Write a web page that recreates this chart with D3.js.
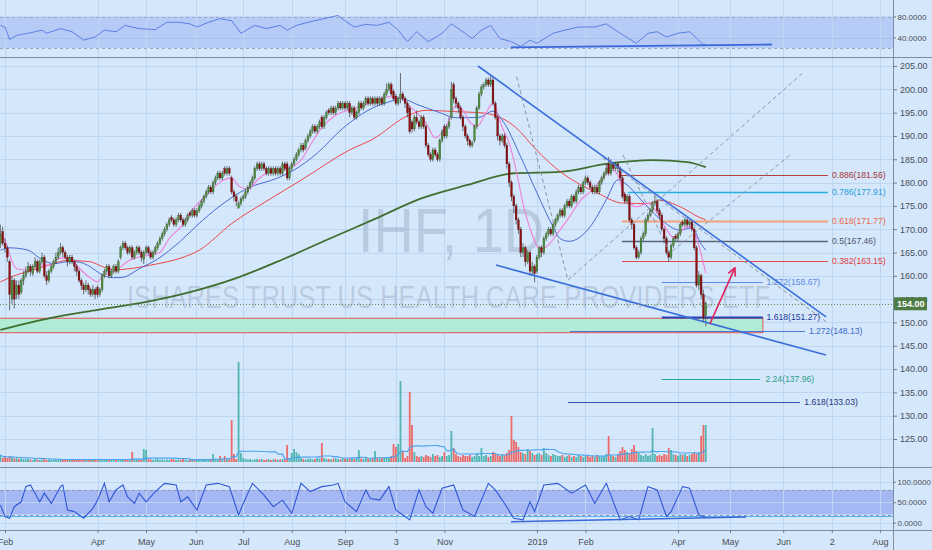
<!DOCTYPE html>
<html><head><meta charset="utf-8">
<script src="https://cdn.jsdelivr.net/npm/d3@7/dist/d3.min.js"></script>
<style>
html,body{margin:0;padding:0;background:#d5e7fb;}
svg{display:block;font-family:"Liberation Sans",Arial,sans-serif;}
</style></head><body>
<svg id="chart" width="932" height="550"></svg>
<script>
// ================= DATA =================
const firstBarIndex = -2; // bar index of first candle (0 = 1 Feb 2018)
const opens = [
167,169.5,167,166,163,155,159,156,158,156.5,159,160,
161,162,160.5,162,163,161,163,164,160,159,
161,162,163,164,165,166,165,164,163,164,
163,162,161,159,158,157,158,157,156,157,
157.5,156,157,160,161,162,160,161,162,161,
164,166,167,166,165,166,164,165,166,165,
163.5,165,166,165,164,165,166,167,168,169,
170,171,172.5,172,171,172,173,172,171,172,
173.5,173,174,173,174,175,176,177,178,179,
178,180,181,182,181,183,182,183,181,178,
177,174.5,175.5,176.5,177,178,179,180,181,183,
184,183,184,183,182,183,182,183,182,183,
182,184,184,181,183,184,185,186,187,188,
187.5,189,190,191,192,191,192,194,192,194,
195.5,195,196,195,196,197,196,197,196,197,
195,196,194,195,197,196,197,198,197,198,
197,198,197,198,197,199,200,201,199.5,198.5,
197,198,199,198,197,196,193,191.5,194,193,
192,194,192,188,186,185,187,186,185,189,
192,190,192,194,201,198,197,196,194,192,
190,189,188,189,192,196,199,200.5,201,202,
201,202,197,194,190,189,190,188,184,180,
177,175,172,170,165,166,163,165,161,162,
161,164,166,165,168,169,170,169,171,172,
173,174,173,175,176,175,177,176,178,179,
178,180,181,180,179,178,179,178,180,181,
182,184,182,184,183,184,183,181,177.5,176,
177,172,171,166,164,165,168,169,172,173,
174,175.5,176,174,173,170,168,165,164,166.5,
168.5,168,169,171.5,171,172,171,171.5,170,166,
158,160,156,151.5];
const highs = [
171,170.5,168,166.5,163.5,160,159.5,159,159,159.5,161,162,
163,162.5,162.5,164,163.5,163.5,165,164.5,161,161.5,
162.5,163.5,165,166,167,166.5,165.5,164.5,164.5,164.5,
163.5,162.5,161.5,159.5,158.5,159,158.5,157.5,158,157.5,
158,157.5,160.5,161.5,162.5,162.5,161.5,162.5,162.5,163.5,
166.5,167.5,167.5,166.5,166.5,166.5,165.5,166.5,166.5,165.5,
165.5,166.5,166.5,165.5,165.5,166.5,167.5,168.5,169.5,170.5,
171.5,172.5,173,172.5,172.5,173.5,173.5,172.5,172.5,173.5,
174,174.5,174.5,174.5,175.5,176.5,177.5,178.5,179.5,179.5,
180.5,181.5,182.5,182.5,182.5,183.5,183.5,183.5,181.5,178.5,
177.5,176,177,177.5,178.5,179.5,180.5,181.5,183.5,184.5,
184.5,184.5,184.5,183.5,183.5,183.5,183.5,183.5,183.5,183.5,
184.5,184.5,184.5,183.5,184.5,185.5,186.5,187.5,188.5,188.5,
189.5,190.5,191.5,192.5,192.5,192.5,193.5,194.5,194.5,195.5,
196,196.5,196.5,196.5,197.5,197.5,197.5,197.5,197.5,197.5,
196.5,196.5,195.5,197.5,197.5,197.5,198.5,198.5,198.5,198.5,
198.5,198.5,198.5,198.5,199.5,201.3,201.5,201.5,200,199,
198.5,203.5,199.5,198.5,197.5,196.5,193.5,194.5,195.5,193.5,
194.5,194.5,192.5,188.5,186.5,187.5,187.5,186.5,189.5,191.5,
192.5,192.5,194,201.6,201.5,198.5,197.5,196.5,194.5,192.5,
190.5,189.5,189,192.5,196.5,199.5,201,201.5,202.5,202.5,
203,202.5,197.5,194.5,190.5,190.5,190.5,188.5,184.5,180.5,
177.5,175.5,172.5,170.5,167,166.5,165.5,165.5,163,162.5,
164.5,166.5,166.5,168.5,169.5,170.5,170.5,171.5,172.5,173.5,
174.5,174.5,175.5,176.5,176.5,177.5,177.5,178.5,179.5,179.5,
180.5,181.5,181.5,180.5,179.5,179.5,179.5,180.5,181.5,182.5,
184,185.5,185,184.5,184.5,184.5,183.5,181.5,178,177.5,
177.5,172.5,171.5,166.5,165.5,168.5,169.5,172.5,173.5,174.5,
176,177.3,176.5,174.5,173.5,170.5,168.5,165.5,167,168.5,
169,169.5,171.5,172,172.5,172.5,172,172,170.5,166.5,
161,160.5,157,154.5];
const lows = [
166,166.5,165,163,152.6,154,153,155,155,156,158,159.5,
160.5,160,160,161.5,160.5,160.5,162.5,159.5,158,158.5,
160.5,161.5,162.5,163.5,164.5,164,163.5,162,162.5,162.5,
161,160,158.5,157,156,156.5,156,155.5,155.5,155,
155.3,155.5,156.5,159.5,160.5,159.5,159.5,160.5,160.5,160.5,
163.5,165.5,165.5,164.5,164.5,163.5,163.5,164.5,164.5,163,
162.5,164.5,164.5,163.5,163.5,164.5,165.5,166.5,167.5,168.5,
169.5,170.5,171.5,170.5,170.5,171.5,171.5,170.5,170.5,171.5,
172.5,172.5,172.5,172.5,173.5,174.5,175.5,176.5,177.5,177.5,
177.5,179.5,180.5,180.5,180.5,181.5,181.5,181.5,177.5,176,
175,174.8,175,176,176.5,177.5,178.5,179.5,180.5,182.5,
182.5,182.5,182.5,181.5,181.5,181.5,181.5,181.5,181.5,181.5,
181.5,182.5,180.5,180.5,182.5,183.5,184.5,185.5,186.5,186.5,
187,188.5,189.5,190.5,190.5,190.5,191.5,191.5,191.5,193.5,
194.5,194.5,194.5,194.5,195.5,195.5,195.5,195.5,195.5,194,
194.5,193.5,193.5,194.5,195.5,195.5,196.5,196.5,196.5,196.5,
196.5,196.5,196.5,196.5,196.5,198.5,199.5,198.5,197.5,196.5,
196.5,197,197.5,196,194,190.5,190.7,191,192.5,191.5,
191.5,191.5,187.5,185.5,184.5,184.5,185.5,184.5,184.5,188.5,
189.5,189.5,191.5,193.5,197,196,195,193.5,191,189.5,
188,187.5,187.5,188.5,191.5,195.5,198.5,200,200.5,200.5,
200.5,196.5,193.5,189,188,188.5,187.5,183,179,176,
173.5,171,169,164,164,162,162.5,160,160,158.6,
160.5,163.5,164,164.5,167.5,168.5,168.5,168.5,170.5,171.5,
172.5,172.5,172.5,174.5,174.5,174.5,175.5,175.5,177.5,177.5,
177.5,179.5,179.5,178.5,177.5,177.5,177.5,177.5,179.5,180.5,
181.5,181.5,181.5,182.5,182.5,182,180.5,176.5,175.5,175.5,
171.5,170,165.5,163.5,163.6,164.5,167.5,168.5,171.5,172.5,
173.5,175,173.5,172,169.5,167,164.5,163,163.5,166,
167.5,167.5,168.5,170.5,170.5,170.5,170.5,169.5,165.5,157.5,
157,155,150,149.2];
const closes = [
169,167,166,164,156,159,155,158,156,159,160,161,
162,161,162,163,161,163,164,160,159,161,
162,163,164,165,166,165,164,163,164,163,
162,161,159,158,157,158,157,156,157,156,
156,157,160,161,162,160,161,162,161,163,
166,167,166,165,166,164,165,166,165,164,
165,166,165,164,165,166,167,168,169,170,
171,172,172,171,172,173,172,171,172,173,
173,174,173,174,175,176,177,178,179,178,
180,181,182,181,182,182,183,182,178,177,
176,175.5,176.5,177,178,179,180,181,183,184,
183,184,183,182,183,182,183,182,183,182,
184,183,181,183,184,185,186,187,188,187,
189,190,191,192,191,192,193,192,194,195,
195,196,195,196,197,196,197,196,197,195,
196,194,195,197,196,197,198,197,198,197,
198,197,198,197,199,200,201,199,198,197,
198,199,198,197,195,191,191.5,194,193,192,
194,192,188,186,185,187,186,185,189,191,
190,192,193,200,198,197,196,194,192,190,
189,188,188.5,192,196,199,200.5,201,202,201,
202,197,194,190,189,190,188,184,180,177,
175,172,170,165,166,163,165,161,162,160.5,
164,166,165,168,169,170,169,171,172,173,
174,173,175,176,175,177,176,178,179,178,
180,181,180,179,178,179,178,180,181,182,
183,182,184,183,184,183,181,177,176,177,
172,171,166,164,165,168,169,172,173,174,
175.5,176,174,173,170,168,165,164,166.5,168,
168,169,171,171,172,171,171.5,170,166,158,
160,156,151,154];
const volumes = [ // thousand shares
70,40,50,40,60,45,35,40,30,35,30,25,
30,25,20,30,25,20,25,30,20,25,
20,25,30,20,25,20,30,25,20,25,
25,20,30,25,20,25,30,20,25,30,
30,25,20,25,30,20,25,20,30,25,
20,25,30,20,25,100,30,25,20,30,
130,120,30,25,20,25,30,20,25,20,
25,20,30,25,20,25,20,30,25,20,
20,25,30,20,25,20,30,25,20,25,
80,30,25,60,30,60,25,30,420,80,
30,1000,90,40,30,25,30,20,25,30,
25,30,20,25,30,20,25,30,20,25,
30,25,170,40,90,130,100,80,40,30,
25,30,35,25,30,40,35,190,40,30,
30,25,35,40,30,25,40,35,30,40,
35,30,40,120,35,30,40,35,30,40,
110,40,35,45,40,50,45,60,180,150,
180,810,110,40,60,700,370,100,60,50,
60,50,70,60,50,80,60,70,50,60,
100,60,70,310,140,80,60,50,70,60,
60,70,50,60,80,60,140,60,70,50,
60,100,80,70,60,80,70,90,120,460,
220,200,150,100,90,80,130,110,90,70,
80,90,70,140,90,70,60,80,70,60,
60,70,50,60,70,50,60,50,70,60,
50,60,70,50,60,50,70,60,50,60,
80,260,70,60,50,80,110,150,120,100,
90,130,170,110,90,70,60,80,60,70,
340,80,60,70,60,80,70,140,120,80,
70,60,80,70,80,60,70,80,100,80,
100,260,370,370];

// moving averages: [bar index, price]
const ma10 = [[-2,169],[-1,168.3],[0,167.7],[2,164.5],[5,161.5],[10,161.2],[14,162.3],[19,162.3],[24,163.8],[28,163.8],[32,161.7],[37,159.5],[40,158.7],[42,159.8],[48,161.2],[51,162.3],[54,163.4],[63,164.5],[67,165],[71,168],[76,170.5],[80,173.5],[87,177.3],[93,180.1],[98,181],[101,179.3],[105,178.6],[109,180.5],[113,182],[119,182.7],[123,183.1],[128,184.8],[132,188],[137,191.8],[143,194.5],[149,195.6],[153,196.2],[159,197.3],[166,198.4],[171,198.1],[174,196.8],[178,195],[182,192.8],[186,189.6],[188,190.2],[191,192.3],[195,196.5],[198,195.6],[201,193],[204,192],[207,194],[210,196.6],[211,197],[215,191.8],[218,188.5],[221,182.7],[224,175.5],[228,168.8],[231,165.8],[234,166.2],[239,169.2],[244,172.6],[249,176.3],[253,178],[257,180.2],[262,182.7],[265,181.6],[267,178.5],[270,175.8],[273,174.8],[278,175.6],[282,173.5],[286,170],[289,168.3],[292,169.4],[295,170.5],[297,170.3],[300,166.5],[303,160.6]];
const ma20 = [[-2,165.5],[2,166],[10,165.5],[15,163.8],[21,162.6],[27,163],[31,163],[37,161.9],[41,160.5],[47,159.6],[51,159.7],[58,161.5],[66,163.6],[76,167.5],[83,170.8],[93,175],[105,178.8],[118,181],[125,182.7],[135,186.3],[146,191.6],[159,196],[166,197.3],[171,198],[179,196.6],[188,195],[195,193.9],[205,194],[211,195.3],[215,193.4],[223,185.5],[230,177.8],[237,170.5],[240,168],[244,167.4],[253,170.5],[260,176.3],[265,180.6],[269,179.5],[275,176.3],[283,172.3],[292,169.8],[297,170.3],[301,166.8],[303,165.5]];
const ma50 = [[-2,158.7],[5,160.2],[12,161.2],[19,162.3],[27,163.3],[37,163],[42,162],[48,161.3],[55,161.6],[63,162.3],[70,163],[76,163.8],[84,165.5],[98,171.2],[113,176],[128,180.5],[149,187],[159,189.3],[174,194.3],[182,195.5],[195,195.2],[205,195],[214,194],[223,190.8],[227,188.5],[241,182],[249,179.5],[256,177.8],[267,175.6],[278,175.5],[283,176.2],[292,174.8],[300,172.6],[303,172]];
const ma200 = [[-2,148.4],[20,151],[40,152.7],[60,154.3],[80,156.5],[100,159.5],[120,163.5],[140,167.9],[160,172.2],[180,176.6],[200,179.5],[220,182],[240,182.3],[260,184],[280,184.8],[295,184.4],[303,183.3]];

// RSI and stochastic: [bar index, value]
const rsiSeries = [[-2,63],[0,60],[2,36],[5,44],[11,49],[16,54],[18,48],[24,57],[29,51],[34,35],[39,41],[43,54],[48,51],[52,63],[58,57],[65,55],[70,69],[75,69],[80,66],[83,60],[88,69],[93,76],[98,72],[102,48],[108,63],[113,57],[119,63],[122,54],[126,63],[131,69],[138,76],[144,82],[147,72],[151,60],[156,65],[161,63],[166,69],[170,54],[174,32],[178,51],[183,32],[189,48],[193,66],[198,51],[202,38],[206,54],[210,63],[214,38],[219,32],[223,23],[227,35],[230,29],[237,48],[242,54],[248,60],[255,60],[260,66],[266,48],[273,29],[278,48],[282,51],[286,41],[291,48],[296,51],[300,35],[302,26],[303,27]];
const stochSeries = [[-2,43],[0,15],[2,11],[4,39],[7,51],[9,88],[11,92],[13,72],[15,51],[17,72],[20,47],[24,88],[25,92],[27,31],[30,27],[34,11],[38,35],[40,55],[43,96],[45,51],[48,80],[51,92],[53,63],[56,47],[58,72],[61,51],[65,76],[69,96],[74,92],[76,51],[79,63],[83,31],[87,92],[92,96],[97,88],[101,19],[103,47],[107,96],[112,67],[116,39],[120,55],[124,23],[128,96],[132,76],[137,88],[142,92],[144,96],[147,51],[152,27],[156,80],[158,59],[162,55],[166,88],[169,31],[175,7],[179,80],[182,39],[185,23],[189,84],[194,92],[198,31],[203,15],[209,96],[212,80],[216,47],[220,11],[224,7],[227,51],[229,27],[233,92],[239,96],[245,72],[251,92],[255,47],[260,96],[266,7],[270,15],[274,7],[278,88],[282,80],[286,15],[288,27],[293,88],[296,84],[300,19],[302,15],[303,14]];

// axes
const monthTickIdx = [0,40,61,82.5,103,124,147,169,190,230,251,291,313.5,336.5,357.5,378.3];
const monthTickLabels = ["Feb","Apr","May","Jun","Jul","Aug","Sep","3","Nov","2019","Feb","Apr","May","Jun","2","Aug"];
const priceTicks = [205,200,195,190,185,180,175,170,165,160,155,150,145,140,135,130,125];
const rsiTicks = [80,40];
const stochTicks = [100,50,0];
const lastPrice = 154.00;

// fibonacci annotations
const fibRatios = ["0.886","0.786","0.618","0.5","0.382","1.272","1.618","1.272","2.24","1.618"];
const fibLevels = [181.56,177.91,171.77,167.46,163.15,158.67,151.27,148.13,137.96,133.03];

// ================= LAYOUT / STYLE =================
const W = 932, H = 550, AX = 893;
const fibStartIdx = [266,269.3,266.8,266.8,266.8,284,284,244.3,284,243.4];
const fibEndIdx   = [355.8,355.8,355.8,355.8,355.8,327.7,327.7,345.9,326.4,343.7];
const fibLabelIdx = [357.6,357.6,357.6,357.6,357.6,329.3,329.3,347.6,328.8,345.6];
const fibColors   = ["#b03c3c","#27aee0","#f3a27a","#5c6478","#e34848","#5d8ae8","#2443b8","#4a78d6","#2ca493","#2d50bd"];
const fibTextCol  = ["#a83434","#1f9ed6","#ea6a4a","#4f566c","#e03c3c","#5f8ae6","#1f3a9c","#3f6bc8","#2a9c8c","#22367a"];
const fibWidths   = [1,1.3,2.2,1.3,1,1,1.8,1,1,1];

const upperTrend = [[204.5,205],[355,151.2]];
const lowerTrend = [[212.3,162.3],[355,143.0]];
const zig1 = [[221.2,202.7],[243.4,159.1],[345.4,203.7]];
const zig2 = [[267.2,185.9],[287.5,164.9],[339.4,185.9]];
const diagDash = [[258.5,185.3],[355.8,149.9]];
const arrowPts = [[304.8,149.7],[315.6,161.7]];
const boxIdx = [-10,327.7], boxPrice = [150.9,147.8];
const rsiTrend = [[218.8,21],[331.6,26.7]];
const stochTrend = [[218.8,2.4],[320.4,13.9]];

// ================= SCALES =================
const x  = d3.scaleLinear().domain([0,291]).range([5,678]);
const y  = d3.scaleLinear().domain([125,205]).range([439,66]);
const yR = d3.scaleLinear().domain([40,80]).range([37.5,16.5]);
const yS = d3.scaleLinear().domain([0,100]).range([522.7,481.7]);
const yV = d3.scaleLinear().domain([0,1000]).range([462,362]);
const px = v => Math.round(v)+0.5;

const bars = closes.map((c,k)=>({i:firstBarIndex+k,o:opens[k],h:highs[k],l:lows[k],c:c,v:volumes[k]}));
// 20-bar volume SMA
const volMA = bars.map((b,k)=>{const s=bars.slice(Math.max(0,k-19),k+1);return {i:b.i,v:d3.mean(s,d=>d.v)};});

const svg = d3.select("#chart");
const defs = svg.append("defs");
defs.append("clipPath").attr("id","cMain").append("rect").attr("x",0).attr("y",58).attr("width",AX).attr("height",409);
defs.append("clipPath").attr("id","cRsi").append("rect").attr("x",0).attr("y",0).attr("width",AX).attr("height",57);
defs.append("clipPath").attr("id","cSto").append("rect").attr("x",0).attr("y",468).attr("width",AX).attr("height",62);
defs.append("marker").attr("id","ah").attr("viewBox","0 0 10 10").attr("refX",9).attr("refY",5)
  .attr("markerWidth",6).attr("markerHeight",6).attr("orient","auto")
  .append("path").attr("d","M1,1 L9,5 L1,9").attr("fill","none").attr("stroke","#e0245e").attr("stroke-width",1.8);

svg.append("rect").attr("width",W).attr("height",H).attr("fill","#d5e7fb");

// indicator bands
svg.append("rect").attr("x",0).attr("y",yR(80)).attr("width",AX).attr("height",yR(20)-yR(80)).attr("fill","#b7cbf7");
svg.append("rect").attr("x",0).attr("y",yS(80)).attr("width",AX).attr("height",yS(20)-yS(80)).attr("fill","#a6b8f4");

// grid
const gridC = "#bfd6f2";
svg.append("g").selectAll("line").data(monthTickIdx).join("line")
  .attr("x1",d=>px(x(d))).attr("x2",d=>px(x(d))).attr("y1",0).attr("y2",530).attr("stroke",gridC);
svg.append("g").selectAll("line").data(priceTicks).join("line")
  .attr("x1",0).attr("x2",AX).attr("y1",d=>px(y(d))).attr("y2",d=>px(y(d))).attr("stroke",gridC);
svg.append("line").attr("x1",0).attr("x2",AX).attr("y1",px(yR(40))).attr("y2",px(yR(40))).attr("stroke","#a9c0ec");
[80,20].forEach(v=>svg.append("line").attr("x1",0).attr("x2",AX).attr("y1",px(yR(v))).attr("y2",px(yR(v)))
  .attr("stroke","#98a6c0").attr("stroke-dasharray","3,3"));
stochTicks.forEach(v=>svg.append("line").attr("x1",0).attr("x2",AX).attr("y1",px(yS(v))).attr("y2",px(yS(v))).attr("stroke",gridC));
[80,20].forEach(v=>svg.append("line").attr("x1",0).attr("x2",AX).attr("y1",px(yS(v))).attr("y2",px(yS(v)))
  .attr("stroke","#8c98b4").attr("stroke-dasharray","3,3"));
svg.append("line").attr("x1",0).attr("x2",AX).attr("y1",px(yS(17))).attr("y2",px(yS(17))).attr("stroke","#5cb2f0").attr("stroke-width",1);

// ===== main panel =====
const gm = svg.append("g").attr("clip-path","url(#cMain)");
gm.append("text").attr("x",358).attr("y",252).attr("font-size",63).attr("textLength",186)
  .attr("lengthAdjust","spacingAndGlyphs").attr("fill","#7f8fa8").attr("fill-opacity",0.32).text("IHF, 1D");
gm.append("text").attr("x",127).attr("y",308).attr("font-size",31).attr("textLength",643)
  .attr("lengthAdjust","spacingAndGlyphs").attr("fill","#7f8fa8").attr("fill-opacity",0.32)
  .text("ISHARES TRUST US HEALTH CARE PROVIDERS ETF");

// volume
gm.append("g").selectAll("rect").data(bars).join("rect")
  .attr("x",d=>x(d.i)-0.9).attr("width",1.8)
  .attr("y",d=>yV(d.v)).attr("height",d=>yV(0)-yV(d.v))
  .attr("fill",d=>d.c>=d.o?"rgba(38,166,154,0.75)":"rgba(239,83,80,0.85)");
gm.append("path").datum(volMA).attr("fill","none").attr("stroke","#4aa3ef").attr("stroke-width",1.1)
  .attr("d",d3.line().x(d=>x(d.i)).y(d=>yV(d.v)));

// support box
gm.append("rect").attr("x",x(boxIdx[0])).attr("width",x(boxIdx[1])-x(boxIdx[0]))
  .attr("y",y(boxPrice[0])).attr("height",y(boxPrice[1])-y(boxPrice[0]))
  .attr("fill","#b2ebd5").attr("stroke","#e25555").attr("stroke-width",1);

// fib lines
const fibG = gm.append("g");
fibLevels.forEach((lv,k)=>{
  fibG.append("line").attr("x1",x(fibStartIdx[k])).attr("x2",x(fibEndIdx[k]))
    .attr("y1",px(y(lv))).attr("y2",px(y(lv))).attr("stroke",fibColors[k]).attr("stroke-width",fibWidths[k]);
  fibG.append("text").attr("x",x(fibLabelIdx[k])).attr("y",y(lv)).attr("dy","0.35em")
    .attr("font-size",8.6).attr("fill",fibTextCol[k]).text(fibRatios[k]+"("+lv.toFixed(2)+")");
});

// moving averages
const maLine = d3.line().x(d=>x(d[0])).y(d=>y(d[1])).curve(d3.curveMonotoneX);
gm.append("path").datum(ma200).attr("d",maLine).attr("fill","none").attr("stroke","#3f6e2f").attr("stroke-width",1.8);
gm.append("path").datum(ma50).attr("d",maLine).attr("fill","none").attr("stroke","#f04646").attr("stroke-width",1);
gm.append("path").datum(ma20).attr("d",maLine).attr("fill","none").attr("stroke","#4a6bd2").attr("stroke-width",1);
gm.append("path").datum(ma10).attr("d",maLine).attr("fill","none").attr("stroke","#ef7fd6").attr("stroke-width",1.1);

// candles
const cg = gm.append("g");
cg.selectAll("line").data(bars).join("line")
  .attr("x1",d=>x(d.i)).attr("x2",d=>x(d.i)).attr("y1",d=>y(d.h)).attr("y2",d=>y(d.l))
  .attr("stroke","#3a3a3a").attr("stroke-width",0.7);
cg.selectAll("rect").data(bars).join("rect")
  .attr("x",d=>x(d.i)-0.9).attr("width",1.8)
  .attr("y",d=>y(Math.max(d.o,d.c))).attr("height",d=>Math.max(0.8,Math.abs(y(d.o)-y(d.c))))
  .attr("fill",d=>d.c>=d.o?"#4f8c3e":"#8a0f0f").attr("stroke",d=>d.c>=d.o?"#2f5a24":"#5a0606").attr("stroke-width",0.3);

// trend lines and drawings
const pl = d3.line().x(d=>x(d[0])).y(d=>y(d[1]));
gm.append("path").datum(upperTrend).attr("d",pl).attr("stroke","#3b6fdc").attr("stroke-width",1.6).attr("fill","none");
gm.append("path").datum(lowerTrend).attr("d",pl).attr("stroke","#3b6fdc").attr("stroke-width",1.6).attr("fill","none");
[zig1,zig2,diagDash].forEach(pts=>gm.append("path").datum(pts).attr("d",pl).attr("fill","none")
  .attr("stroke","#8e96a4").attr("stroke-width",1).attr("stroke-dasharray","4,3"));
gm.append("path").datum(arrowPts).attr("d",pl).attr("fill","none").attr("stroke","#e0245e")
  .attr("stroke-width",1.6).attr("marker-end","url(#ah)");

// last price line
gm.append("line").attr("x1",0).attr("x2",AX).attr("y1",px(y(lastPrice))).attr("y2",px(y(lastPrice)))
  .attr("stroke","#5e8c52").attr("stroke-dasharray","1,2");

// ===== RSI panel =====
const gr = svg.append("g").attr("clip-path","url(#cRsi)");
gr.append("path").datum(rsiSeries).attr("fill","none").attr("stroke","#5b80e2").attr("stroke-width",1)
  .attr("d",d3.line().x(d=>x(d[0])).y(d=>yR(d[1])));
gr.append("path").datum(rsiTrend).attr("fill","none").attr("stroke","#3a68d8").attr("stroke-width",1.8)
  .attr("d",d3.line().x(d=>x(d[0])).y(d=>yR(d[1])));

// ===== Stoch panel =====
const gs = svg.append("g").attr("clip-path","url(#cSto)");
gs.append("path").datum(stochSeries).attr("fill","none").attr("stroke","#2f56d6").attr("stroke-width",1.1)
  .attr("d",d3.line().x(d=>x(d[0])).y(d=>yS(d[1])));
gs.append("path").datum(stochTrend).attr("fill","none").attr("stroke","#3a68d8").attr("stroke-width",1.6)
  .attr("d",d3.line().x(d=>x(d[0])).y(d=>yS(d[1])));

// ===== separators & axes =====
const sepC = "#7f8da0";
[57,467,530].forEach(v=>svg.append("line").attr("x1",0).attr("x2",W).attr("y1",v+0.5).attr("y2",v+0.5).attr("stroke",sepC));
svg.append("line").attr("x1",AX+0.5).attr("x2",AX+0.5).attr("y1",0).attr("y2",H).attr("stroke",sepC);

function styleAxis(fs){
  return g=>{
    g.select(".domain").remove();
    g.selectAll(".tick line").attr("stroke","#6f7c8e");
    g.selectAll(".tick text").attr("fill","#4a4f58").attr("font-size",fs).attr("font-family","Liberation Sans, Arial, sans-serif");
  };
}
svg.append("g").attr("transform",`translate(${AX},0)`)
  .call(d3.axisRight(y).tickValues(priceTicks).tickFormat(d3.format(".2f")).tickSize(4).tickPadding(3)).call(styleAxis(9));
svg.append("g").attr("transform",`translate(${AX},0)`)
  .call(d3.axisRight(yR).tickValues(rsiTicks).tickFormat(d3.format(".4f")).tickSize(3).tickPadding(1.5)).call(styleAxis(8));
svg.append("g").attr("transform",`translate(${AX},0)`)
  .call(d3.axisRight(yS).tickValues(stochTicks).tickFormat(d3.format(".4f")).tickSize(3).tickPadding(1.5)).call(styleAxis(8));
svg.append("g").attr("transform","translate(0,530)")
  .call(d3.axisBottom(x).tickValues(monthTickIdx).tickFormat((d,k)=>monthTickLabels[k]).tickSize(3).tickPadding(6)).call(styleAxis(9));

// last price badge
const bg = svg.append("g");
bg.append("rect").attr("x",AX+1).attr("y",y(lastPrice)-6.5).attr("width",33).attr("height",13).attr("fill","#4f7c45");
bg.append("text").attr("x",AX+4).attr("y",y(lastPrice)).attr("dy","0.35em").attr("font-size",9).attr("fill","#ffffff")
  .attr("font-weight","bold").text(lastPrice.toFixed(2));
</script>
</body></html>
